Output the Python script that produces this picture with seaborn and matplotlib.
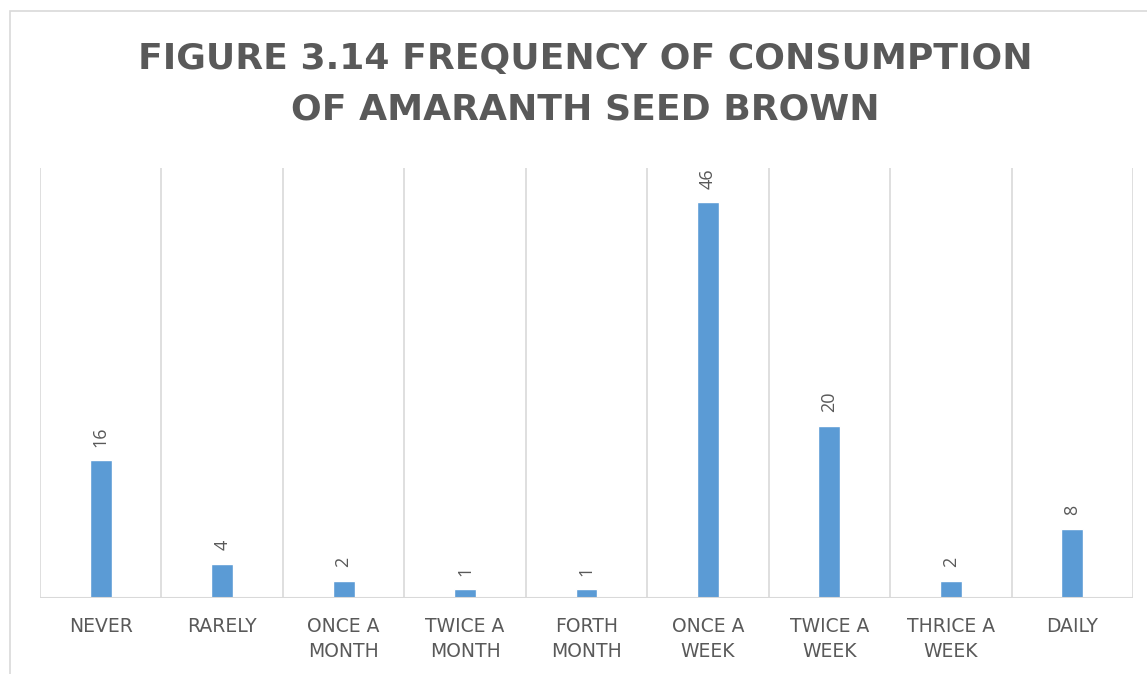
import matplotlib
matplotlib.use("Agg")
import matplotlib.pyplot as plt
from matplotlib.patches import Rectangle
import seaborn as sns
import pandas as pd
import numpy as np

categories = ["NEVER", "RARELY", "ONCE A\nMONTH", "TWICE A\nMONTH", "FORTH\nMONTH",
              "ONCE A\nWEEK", "TWICE A\nWEEK", "THRICE A\nWEEK", "DAILY"]
counts = [16, 4, 2, 1, 1, 46, 20, 2, 8]
title = "FIGURE 3.14 FREQUENCY OF CONSUMPTION\nOF AMARANTH SEED BROWN"

sns.set_theme(style="white")
plt.rcParams["font.family"] = ["DejaVu Sans"]

text_gray = "#595959"
grid_gray = "#d9d9d9"
bar_blue = "#5b9bd5"

W, H = 1147, 674
fig = plt.figure(figsize=(W / 100, H / 100), dpi=100)
fig.patch.set_facecolor("white")

# outer chart frame (runs off the right and bottom edges)
fig.patches.append(Rectangle((10 / W, -0.1), 1.2, 1 - 11 / H + 0.1,
                             transform=fig.transFigure, fill=False,
                             edgecolor=grid_gray, linewidth=1.2))

ax = fig.add_axes([40 / W, 1 - 598 / H, (1133 - 40) / W, (598 - 168) / H])

df = pd.DataFrame({"category": categories, "count": counts})
sns.barplot(data=df, x="category", y="count", color=bar_blue, width=0.18,
            saturation=1, ax=ax)

ax.set_xlim(-0.5, len(categories) - 0.5)
ax.set_ylim(0, 50)

# category separators
for xb in np.arange(-0.5, len(categories), 1.0):
    ax.axvline(xb, color=grid_gray, linewidth=1.2, zorder=0)
ax.axhline(0, color=grid_gray, linewidth=1.5, zorder=3)

for s in ax.spines.values():
    s.set_visible(False)
ax.set_yticks([])
ax.set_xlabel("")
ax.set_ylabel("")
ax.tick_params(axis="x", length=0, pad=14, labelsize=13.5, labelcolor=text_gray)
for lbl in ax.get_xticklabels():
    lbl.set_linespacing(1.35)

for i, v in enumerate(counts):
    ax.annotate(str(v), (i, v), xytext=(0, 10), textcoords="offset points",
                rotation=90, ha="center", va="bottom", fontsize=13,
                color=text_gray, family="Open Sans")

fig.text(585 / W, 1 - 84 / H, title, ha="center", va="center",
         fontsize=26, fontweight="bold", color=text_gray, linespacing=1.6)

fig.savefig("out.png", dpi=100)
